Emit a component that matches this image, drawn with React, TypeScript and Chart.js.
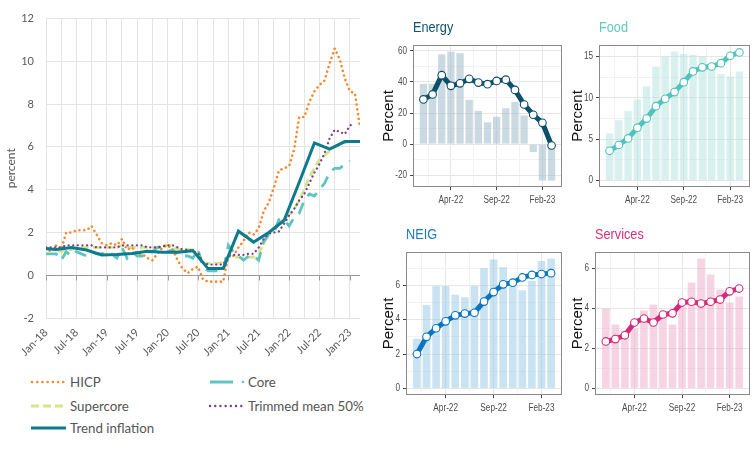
import React, { useEffect, useRef } from 'react';
import { Chart, registerables } from 'chart.js';

Chart.register(...registerables);

// ---------- Left chart data (monthly, index 0 = Jan-18) ----------
const hicp = [
  1.3, 1.1, 1.4, 1.2, 2.0, 2.0, 2.1, 2.1, 2.1, 2.3, 1.9, 1.5,
  1.4, 1.5, 1.4, 1.7, 1.2, 1.3, 1.0, 1.0, 0.8, 0.7, 1.0, 1.3,
  1.4, 1.2, 0.7, 0.3, 0.1, 0.3, 0.4, -0.2, -0.3, -0.3, -0.3, -0.3,
  0.9, 0.9, 1.3, 1.6, 2.0, 1.9, 2.2, 3.0, 3.4, 4.1, 4.9, 5.0,
  5.1, 5.9, 7.4, 7.4, 8.1, 8.6, 8.9, 9.1, 9.9, 10.6, 10.1, 9.2,
  8.6, 8.5, 6.9,
];
const core = [
  1.0, 1.0, 1.0, 0.7, 1.1, 0.9, 1.1, 1.0, 0.9, 1.1, 1.0, 1.0,
  1.1, 1.0, 0.8, 1.3, 0.8, 1.1, 0.9, 0.9, 1.0, 1.1, 1.3, 1.3,
  1.1, 1.2, 1.0, 0.9, 0.9, 0.8, 1.2, 0.4, 0.2, 0.2, 0.2, 0.2,
  1.4, 1.1, 0.9, 0.7, 0.9, 0.9, 0.7, 1.6, 1.9, 2.0, 2.6, 2.6,
  2.3, 2.7, 2.9, 3.5, 3.8, 3.7, 4.0, 4.3, 4.8, 5.0, 5.0, 5.2,
  5.35,
];
const supercore = [
  1.2, 1.2, 1.2, 1.1, 1.2, 1.2, 1.3, 1.3, 1.3, 1.3, 1.3, 1.3,
  1.3, 1.3, 1.3, 1.4, 1.3, 1.3, 1.3, 1.3, 1.3, 1.3, 1.3, 1.4,
  1.4, 1.4, 1.2, 1.2, 1.2, 1.2, 1.1, 0.6, 0.55, 0.55, 0.55, 0.6,
  0.9, 0.85, 0.85, 0.8, 0.85, 0.85, 1.0, 1.5, 1.9, 2.2, 2.5, 2.6,
  2.8, 3.1, 3.5, 4.0, 4.6, 5.0, 5.4, 5.6, 5.8, 6.0, 6.1, 6.2,
  6.25,
];
const trimmedMean = [
  1.3, 1.3, 1.3, 1.3, 1.4, 1.4, 1.4, 1.4, 1.4, 1.4, 1.3, 1.3,
  1.3, 1.3, 1.3, 1.4, 1.4, 1.4, 1.4, 1.4, 1.3, 1.3, 1.3, 1.35,
  1.4, 1.4, 1.3, 1.2, 1.2, 1.1, 1.05, 0.6, 0.5, 0.5, 0.5, 0.5,
  0.9, 0.95, 0.95, 0.95, 1.0, 1.0, 1.3, 1.7, 1.95, 2.0, 2.05, 2.4,
  2.8, 3.1, 3.5, 3.8, 4.3, 4.8, 5.2, 5.7, 6.4, 6.8, 6.7, 6.6,
  7.0, 7.1,
];
const trendMonths = [0, 2, 5, 8, 11, 14, 17, 20, 23, 26, 29, 32, 35, 38, 41, 44, 47, 50, 53, 56, 59, 62];
const trendValues = [1.25, 1.2, 1.3, 1.18, 0.95, 0.97, 1.02, 1.12, 1.07, 1.07, 1.15, 0.31, 0.31, 2.06, 1.55, 2.0, 2.56, 4.35, 6.19, 5.9, 6.25, 6.25];
const mainTickLabels = ['Jan-18', 'Jul-18', 'Jan-19', 'Jul-19', 'Jan-20', 'Jul-20', 'Jan-21', 'Jul-21', 'Jan-22', 'Jul-22', 'Jan-23'];
const mainYTicks = [-2, 0, 2, 4, 6, 8, 10, 12];

// ---------- Panel data (monthly, Jan-22 .. Mar-23) ----------
const panelMonths = ['Jan-22', 'Feb-22', 'Mar-22', 'Apr-22', 'May-22', 'Jun-22', 'Jul-22', 'Aug-22', 'Sep-22', 'Oct-22', 'Nov-22', 'Dec-22', 'Jan-23', 'Feb-23', 'Mar-23'];
const panelTickLabels = ['Apr-22', 'Sep-22', 'Feb-23'];
const energyBars = [38.8, 38.8, 57.8, 59.5, 58.5, 28.5, 21.4, 14.1, 17.6, 23.1, 27.2, 18.4, -5.1, -23.5, -23.5];
const energyLine = [28.8, 32.0, 44.4, 37.5, 39.1, 42.0, 39.6, 38.6, 40.7, 41.5, 34.9, 25.5, 18.9, 13.7, -0.9];
const foodBars = [5.7, 7.3, 8.4, 9.8, 11.4, 13.8, 15.0, 15.6, 15.3, 15.2, 15.0, 14.0, 12.9, 12.6, 13.2];
const foodLine = [3.6, 4.3, 5.1, 6.4, 7.5, 9.0, 9.9, 10.7, 11.9, 13.2, 13.7, 13.8, 14.2, 15.1, 15.5];
const neigBars = [2.9, 4.85, 5.95, 5.95, 5.45, 5.3, 5.95, 7.0, 7.5, 7.05, 6.2, 5.7, 6.25, 7.4, 7.55];
const neigLine = [2.0, 3.0, 3.5, 3.9, 4.25, 4.35, 4.4, 5.05, 5.6, 6.05, 6.15, 6.45, 6.6, 6.65, 6.7];
const servicesBars = [4.0, 3.2, 2.9, 3.0, 3.9, 4.2, 3.6, 3.2, 4.1, 5.3, 6.5, 5.7, 4.95, 4.3, 4.6];
const servicesLine = [2.35, 2.47, 2.66, 3.3, 3.5, 3.3, 3.7, 3.76, 4.3, 4.34, 4.25, 4.34, 4.45, 4.86, 5.0];

const LATO = 'Lato, "Open Sans", sans-serif';
const SANS = '"Liberation Sans", Arial, sans-serif';
const NARROW_SCALE = 0.82;

const COL = {
  hicp: '#f5892f',
  core: '#5ec4bd',
  supercore: '#d6e58a',
  trimmed: '#7b3d8b',
  trend: '#0e7a8e',
};

function MainChart() {
  const ref = useRef<HTMLCanvasElement>(null);
  useEffect(() => {
    const toXY = (arr: number[]) => arr.map((v, i) => ({ x: i, y: v }));
    const gridMonths: number[] = [];
    for (let m = 0; m <= 60; m += 3) gridMonths.push(m);
    const zeroAxis = {
      id: 'zeroAxis',
      beforeDatasetsDraw(chart: any) {
        const { ctx, chartArea, scales } = chart;
        const y0 = Math.round(scales.y.getPixelForValue(0)) + 0.5;
        ctx.save();
        ctx.strokeStyle = '#9b9b9b';
        ctx.lineWidth = 1;
        ctx.beginPath();
        ctx.moveTo(chartArea.left, y0);
        ctx.lineTo(chartArea.right, y0);
        mainTickLabels.forEach((_, i) => {
          const px = Math.round(scales.x.getPixelForValue(i * 6)) + 0.5;
          ctx.moveTo(px, y0);
          ctx.lineTo(px, y0 + 5);
        });
        ctx.stroke();
        ctx.restore();
      },
    };
    const chart = new Chart(ref.current as HTMLCanvasElement, {
      type: 'line',
      data: {
        datasets: [
          { label: 'Trend inflation', data: trendMonths.map((m, i) => ({ x: m, y: trendValues[i] })), borderColor: COL.trend, borderWidth: 3, pointRadius: 0, order: 0 },
          { label: 'HICP', data: toXY(hicp), borderColor: COL.hicp, borderWidth: 2.6, borderDash: [0.01, 4.8], borderCapStyle: 'round', pointRadius: 0, order: 3 },
          { label: 'Core', data: toXY(core), borderColor: COL.core, borderWidth: 2.8, borderDash: [12, 4, 0.01, 4], borderCapStyle: 'butt', pointRadius: 0, order: 4 },
          { label: 'Supercore', data: toXY(supercore), borderColor: COL.supercore, borderWidth: 2.8, borderDash: [8, 4], pointRadius: 0, order: 5 },
          { label: 'Trimmed mean 50%', data: toXY(trimmedMean), borderColor: COL.trimmed, borderWidth: 2.3, borderDash: [0.01, 4.6], borderCapStyle: 'round', pointRadius: 0, order: 2 },
        ] as any,
      },
      options: {
        animation: false,
        responsive: false,
        maintainAspectRatio: false,
        layout: { padding: { top: 17, right: 12, left: 0, bottom: 0 } },
        plugins: { legend: { display: false }, tooltip: { enabled: false } },
        scales: {
          x: {
            type: 'linear',
            min: 0,
            max: 62,
            afterBuildTicks: (s: any) => { s.ticks = gridMonths.map((v) => ({ value: v })); },
            afterFit: (s: any) => { s.height = 54; },
            grid: { color: '#e4e4e4', drawTicks: false },
            border: { display: false },
            ticks: {
              autoSkip: false,
              maxRotation: 45,
              minRotation: 45,
              padding: 8,
              color: '#595959',
              font: { family: LATO, size: 11 },
              callback: (v: any) => (v % 6 === 0 ? mainTickLabels[v / 6] : ''),
            },
          },
          y: {
            min: -2,
            max: 12,
            afterBuildTicks: (s: any) => { s.ticks = mainYTicks.map((v) => ({ value: v })); },
            afterFit: (s: any) => { s.width = 46; },
            grid: { color: '#e4e4e4', drawTicks: false },
            border: { display: false },
            ticks: { padding: 12, color: '#595959', font: { family: LATO, size: 11 } },
            title: { display: true, text: 'percent', color: '#595959', font: { family: LATO, size: 12 }, padding: { top: 4, bottom: 0 } },
          },
        },
      } as any,
      plugins: [zeroAxis],
    });
    return () => chart.destroy();
  }, []);
  return <canvas ref={ref} width={372} height={372} style={{ position: 'absolute', left: 0, top: 0, width: 372, height: 372 }} />;
}

function LegendSample({ kind }: { kind: string }) {
  const common = { x1: 2, y1: 5, y2: 5, fill: 'none' } as any;
  if (kind === 'hicp') return <line {...common} x2={34} stroke={COL.hicp} strokeWidth={2.6} strokeDasharray="0.01 5.2" strokeLinecap="round" />;
  if (kind === 'core') return <g><line {...common} x2={25} stroke={COL.core} strokeWidth={3} /><circle cx={35} cy={5} r={1.3} fill={COL.core} /></g>;
  if (kind === 'supercore') return <line {...common} x1={1} x2={33} stroke={COL.supercore} strokeWidth={3} strokeDasharray="8 4" />;
  if (kind === 'trimmed') return <line {...common} x2={34} stroke={COL.trimmed} strokeWidth={2.4} strokeDasharray="0.01 5.2" strokeLinecap="round" />;
  return <line {...common} x1={1} x2={36} stroke={COL.trend} strokeWidth={3} />;
}

const legendItems = [
  { label: 'HICP', kind: 'hicp', x: 30, y: 382 },
  { label: 'Core', kind: 'core', x: 208, y: 382 },
  { label: 'Supercore', kind: 'supercore', x: 30, y: 406 },
  { label: 'Trimmed mean 50%', kind: 'trimmed', x: 208, y: 406 },
  { label: 'Trend inflation', kind: 'trend', x: 30, y: 428 },
];

function MainLegend() {
  return (
    <>
      {legendItems.map((it) => (
        <div key={it.label} style={{ position: 'absolute', left: it.x, top: it.y - 9, height: 18, display: 'flex', alignItems: 'center', whiteSpace: 'nowrap' }}>
          <svg width={38} height={10} style={{ display: 'block' }}><LegendSample kind={it.kind} /></svg>
          <span style={{ fontFamily: LATO, fontSize: 13.3, color: '#555', marginLeft: 2, lineHeight: '18px' }}>{it.label}</span>
        </div>
      ))}
    </>
  );
}

type PanelProps = {
  title: string; titleColor: string; lineColor: string; barColor: string;
  bars: number[]; line: number[]; yMin: number; yMax: number; majors: number[]; minors: number[];
  left: number; top: number; width: number; height: number; axisW: number; padTop: number; padRight: number; axisH: number;
};

function Panel(p: PanelProps) {
  const ref = useRef<HTMLCanvasElement>(null);
  useEffect(() => {
    const majorIdx = panelTickLabels.map((l) => panelMonths.indexOf(l));
    const minorIdx = [0.5, 5.5, 10.5];
    const xTicks = [...majorIdx, ...minorIdx].sort((a, b) => a - b);
    const yTicks = [...p.majors, ...p.minors].sort((a, b) => a - b);
    const isMajorY = (v: number) => p.majors.indexOf(v) >= 0;
    const isMajorX = (v: number) => majorIdx.indexOf(v) >= 0;
    const narrowText = (ctx: any, text: string, x: number, y: number) => {
      ctx.save();
      ctx.translate(x, y);
      ctx.scale(NARROW_SCALE, 1);
      ctx.fillText(text, 0, 0);
      ctx.restore();
    };
    const deco = {
      id: 'panelDeco',
      afterDraw(chart: any) {
        const { ctx, chartArea: a, scales } = chart;
        ctx.save();
        ctx.strokeStyle = '#8a8a8a';
        ctx.lineWidth = 1;
        ctx.strokeRect(Math.round(a.left) + 0.5, Math.round(a.top) + 0.5, Math.round(a.right - a.left) - 1, Math.round(a.bottom - a.top) - 1);
        // title
        ctx.font = `15.5px ${SANS}`;
        ctx.fillStyle = p.titleColor;
        ctx.textBaseline = 'alphabetic';
        ctx.textAlign = 'left';
        narrowText(ctx, p.title, a.left, a.top - 13);
        // tick labels
        ctx.font = `10px ${SANS}`;
        ctx.fillStyle = '#4d4d4d';
        ctx.textAlign = 'center';
        ctx.textBaseline = 'top';
        majorIdx.forEach((i) => narrowText(ctx, panelMonths[i], scales.x.getPixelForValue(i), a.bottom + 8));
        ctx.textAlign = 'right';
        ctx.textBaseline = 'middle';
        p.majors.forEach((v) => narrowText(ctx, String(v), a.left - 6, scales.y.getPixelForValue(v)));
        ctx.restore();
      },
    };
    const chart = new Chart(ref.current as HTMLCanvasElement, {
      type: 'bar',
      data: {
        datasets: [
          {
            type: 'line',
            data: p.line.map((v, i) => ({ x: i, y: v })),
            borderColor: p.lineColor,
            borderWidth: 5,
            pointRadius: 3.8,
            pointBackgroundColor: '#ffffff',
            pointBorderColor: p.lineColor,
            pointBorderWidth: 1.1,
            order: 0,
          },
          {
            type: 'bar',
            data: p.bars.map((v, i) => ({ x: i, y: v })),
            backgroundColor: p.barColor,
            barPercentage: 0.8,
            categoryPercentage: 1,
            order: 1,
          },
        ] as any,
      },
      options: {
        animation: false,
        responsive: false,
        maintainAspectRatio: false,
        layout: { padding: { top: p.padTop, right: p.padRight, left: 0, bottom: 0 } },
        plugins: { legend: { display: false }, tooltip: { enabled: false } },
        scales: {
          x: {
            type: 'linear',
            offset: false,
            min: -1.14,
            max: 15.14,
            afterBuildTicks: (s: any) => { s.ticks = xTicks.map((v) => ({ value: v })); },
            afterFit: (s: any) => { s.height = p.axisH; },
            grid: {
              offset: false,
              color: (c: any) => (c.tick && isMajorX(c.tick.value) ? '#e6e6e6' : '#f2f2f2'),
              tickColor: (c: any) => (c.tick && isMajorX(c.tick.value) ? '#444' : 'rgba(0,0,0,0)'),
              tickLength: 3,
            },
            border: { display: false },
            ticks: { display: false, autoSkip: false, maxRotation: 0 },
          },
          y: {
            min: p.yMin,
            max: p.yMax,
            afterBuildTicks: (s: any) => { s.ticks = yTicks.map((v) => ({ value: v })); },
            afterFit: (s: any) => { s.width = p.axisW; },
            grid: {
              color: (c: any) => (c.tick && isMajorY(c.tick.value) ? '#e6e6e6' : '#f2f2f2'),
              tickColor: (c: any) => (c.tick && isMajorY(c.tick.value) ? '#444' : 'rgba(0,0,0,0)'),
              tickLength: 3,
            },
            border: { display: false },
            ticks: { display: false },
            title: { display: true, text: 'Percent', color: '#111', font: { family: SANS, size: 15 }, padding: { top: 0, bottom: 0 } },
          },
        },
      } as any,
      plugins: [deco],
    });
    return () => chart.destroy();
  }, []);
  return <canvas ref={ref} width={p.width} height={p.height} style={{ position: 'absolute', left: p.left, top: p.top, width: p.width, height: p.height }} />;
}

export default function App() {
  return (
    <div style={{ position: 'fixed', left: 0, top: 0, width: 756, height: 450, background: '#ffffff', overflow: 'hidden' }}>
      <MainChart />
      <MainLegend />
      <Panel title="Energy" titleColor="#0d5270" lineColor="#0b4f6b" barColor="rgba(160,188,203,0.55)"
        bars={energyBars} line={energyLine} yMin={-27.6} yMax={63.8} majors={[-20, 0, 20, 40, 60]} minors={[-10, 10, 30, 50]}
        left={380} top={0} width={190} height={215} axisW={33} padTop={45} padRight={8} axisH={28} />
      <Panel title="Food" titleColor="#5ecac2" lineColor="#52c3ba" barColor="rgba(178,226,222,0.5)"
        bars={foodBars} line={foodLine} yMin={-0.78} yMax={16.4} majors={[0, 5, 10, 15]} minors={[2.5, 7.5, 12.5]}
        left={569} top={0} width={187} height={215} axisW={30} padTop={45} padRight={6} axisH={28} />
      <Panel title="NEIG" titleColor="#1a7cc1" lineColor="#0a74be" barColor="rgba(150,200,232,0.5)"
        bars={neigBars} line={neigLine} yMin={-0.38} yMax={7.93} majors={[0, 2, 4, 6]} minors={[1, 3, 5, 7]}
        left={380} top={215} width={190} height={215} axisW={26} padTop={37} padRight={8} axisH={35} />
      <Panel title="Services" titleColor="#d62f7b" lineColor="#d42a77" barColor="rgba(238,170,200,0.5)"
        bars={servicesBars} line={servicesLine} yMin={-0.33} yMax={6.83} majors={[0, 2, 4, 6]} minors={[1, 3, 5]}
        left={569} top={215} width={187} height={215} axisW={26} padTop={37} padRight={6} axisH={35} />
    </div>
  );
}
